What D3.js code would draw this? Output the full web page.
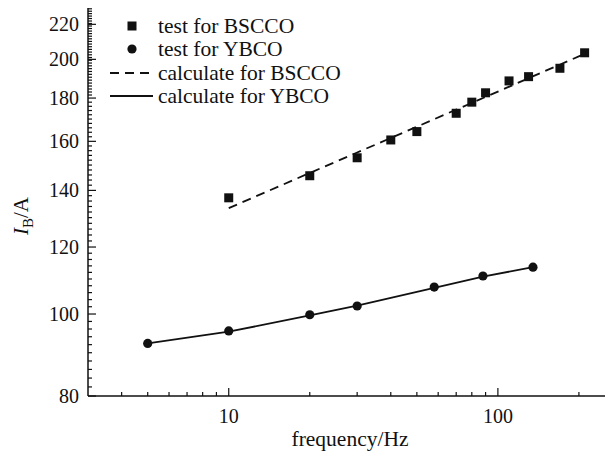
<!DOCTYPE html>
<html>
<head>
<meta charset="utf-8">
<script src="https://cdn.jsdelivr.net/npm/d3@7"></script>
<style>
  body { margin: 0; background: #fff; }
  text { font-family: "Liberation Serif", "Times New Roman", serif; fill: #111; }
</style>
</head>
<body>
<div id="chart"></div>
<script>
// data
const bsccoTestFreq = [10, 20, 30, 40, 50, 70, 80, 90, 110, 130, 170, 210];
const bsccoTestCurrent = [137.2, 145.7, 153.0, 160.6, 164.3, 172.7, 178.0, 182.6, 188.6, 190.8, 195.2, 203.6];

const ybcoTestFreq = [5, 10, 20, 30, 58, 88, 135];
const ybcoTestCurrent = [92.3, 95.5, 99.8, 102.2, 107.6, 110.9, 113.6];

const bsccoCalcFreq = [10, 20, 30, 50, 70, 100, 150, 210];
const bsccoCalcCurrent = [133.4, 146.8, 155.2, 166.5, 174.4, 183.2, 193.8, 203.0];

const ybcoCalcFreq = [5, 10, 20, 30, 58, 88, 135];
const ybcoCalcCurrent = [92.3, 95.3, 99.6, 102.3, 107.4, 110.7, 113.6];

const yTickValues = [80, 100, 120, 140, 160, 180, 200, 220];
const xTickValues = [10, 100];

const legendLabels = ["test for BSCCO", "test for YBCO", "calculate for BSCCO", "calculate for YBCO"];

// dimensions
const margins = { top: 8, right: 0, bottom: 58, left: 88 },
    width = 605 - margins.left - margins.right,
    height = 454 - margins.top - margins.bottom;

const ink = "#111";

const svg = d3.select("#chart")
    .append("svg")
    .attr("width", 605)
    .attr("height", 454)
    .append("g")
    .attr("transform", "translate(" + margins.left + "," + margins.top + ")");

const x = d3.scaleLog().domain([3, 250]).range([0, width]);
const y = d3.scaleLog().domain([80, 230]).range([height, 0]);

// minor ticks
const xMinor = [4, 5, 6, 7, 8, 9, 20, 30, 40, 50, 60, 70, 80, 90, 200];
const yMinor = d3.range(80, 180, 2).concat(d3.range(180, 230, 1.5)).filter(v => !yTickValues.includes(v));

// x axis
const xAxis = svg.append("g").attr("transform", "translate(0," + height + ")");
xAxis.append("line")
    .attr("x1", 0).attr("x2", width)
    .attr("stroke", ink).attr("stroke-width", 1.5);
xAxis.selectAll(".minor").data(xMinor).join("line")
    .attr("class", "minor")
    .attr("x1", d => x(d)).attr("x2", d => x(d))
    .attr("y1", 0).attr("y2", -4)
    .attr("stroke", ink).attr("stroke-width", 1.2);
xAxis.selectAll(".major").data(xTickValues).join("line")
    .attr("class", "major")
    .attr("x1", d => x(d)).attr("x2", d => x(d))
    .attr("y1", 0).attr("y2", -8)
    .attr("stroke", ink).attr("stroke-width", 1.2);
xAxis.selectAll("text").data(xTickValues).join("text")
    .attr("x", d => x(d))
    .attr("y", 27)
    .attr("text-anchor", "middle")
    .attr("font-size", 20)
    .text(d => d);

// y axis
const yAxis = svg.append("g");
yAxis.append("line")
    .attr("y1", 0).attr("y2", height)
    .attr("stroke", ink).attr("stroke-width", 1.5);
yAxis.selectAll(".minor").data(yMinor).join("line")
    .attr("class", "minor")
    .attr("y1", d => y(d)).attr("y2", d => y(d))
    .attr("x1", 0).attr("x2", 4)
    .attr("stroke", ink).attr("stroke-width", 1.2);
yAxis.selectAll(".major").data(yTickValues).join("line")
    .attr("class", "major")
    .attr("y1", d => y(d)).attr("y2", d => y(d))
    .attr("x1", 0).attr("x2", 8)
    .attr("stroke", ink).attr("stroke-width", 1.2);
yAxis.selectAll("text").data(yTickValues).join("text")
    .attr("x", -9)
    .attr("y", d => y(d))
    .attr("text-anchor", "end")
    .attr("dominant-baseline", "central")
    .attr("font-size", 20)
    .text(d => d);

// axis titles
svg.append("text")
    .attr("x", 350 - margins.left)
    .attr("y", height + 50)
    .attr("text-anchor", "middle")
    .attr("font-size", 21.5)
    .text("frequency/Hz");

const yTitle = svg.append("text")
    .attr("transform", "translate(" + (-60) + "," + (216 - margins.top) + ") rotate(-90)")
    .attr("text-anchor", "middle")
    .attr("font-size", 21);
yTitle.append("tspan").attr("font-style", "italic").text("I");
yTitle.append("tspan").attr("font-size", 15).attr("dy", 5).text("B");
yTitle.append("tspan").attr("dy", -5).text("/A");

// lines
const line = d3.line().x(d => x(d[0])).y(d => y(d[1]));

svg.append("path")
    .datum(d3.zip(bsccoCalcFreq, bsccoCalcCurrent))
    .attr("d", line)
    .attr("fill", "none")
    .attr("stroke", ink)
    .attr("stroke-width", 1.8)
    .attr("stroke-dasharray", "9,6");

svg.append("path")
    .datum(d3.zip(ybcoCalcFreq, ybcoCalcCurrent))
    .attr("d", line)
    .attr("fill", "none")
    .attr("stroke", ink)
    .attr("stroke-width", 1.8);

// markers
svg.selectAll(".sq").data(d3.zip(bsccoTestFreq, bsccoTestCurrent)).join("rect")
    .attr("class", "sq")
    .attr("x", d => x(d[0]) - 4.5)
    .attr("y", d => y(d[1]) - 4.5)
    .attr("width", 9).attr("height", 9)
    .attr("fill", ink);

svg.selectAll(".dot").data(d3.zip(ybcoTestFreq, ybcoTestCurrent)).join("circle")
    .attr("class", "dot")
    .attr("cx", d => x(d[0]))
    .attr("cy", d => y(d[1]))
    .attr("r", 4.6)
    .attr("fill", ink);

// legend
const legend = svg.append("g").attr("transform", "translate(" + (-margins.left) + "," + (-margins.top) + ")");
const legendY = [26, 49, 73, 96];
legend.selectAll("text").data(legendLabels).join("text")
    .attr("x", 158)
    .attr("y", (d, i) => legendY[i])
    .attr("dominant-baseline", "central")
    .attr("font-size", 21.5)
    .text(d => d);
legend.append("rect")
    .attr("x", 132 - 4.5).attr("y", legendY[0] - 4.5)
    .attr("width", 9).attr("height", 9)
    .attr("fill", ink);
legend.append("circle")
    .attr("cx", 132).attr("cy", legendY[1]).attr("r", 4.6)
    .attr("fill", ink);
legend.append("line")
    .attr("x1", 110).attr("x2", 153)
    .attr("y1", legendY[2]).attr("y2", legendY[2])
    .attr("stroke", ink).attr("stroke-width", 1.8)
    .attr("stroke-dasharray", "9,6");
legend.append("line")
    .attr("x1", 110).attr("x2", 153)
    .attr("y1", legendY[3]).attr("y2", legendY[3])
    .attr("stroke", ink).attr("stroke-width", 1.8);
</script>
</body>
</html>
